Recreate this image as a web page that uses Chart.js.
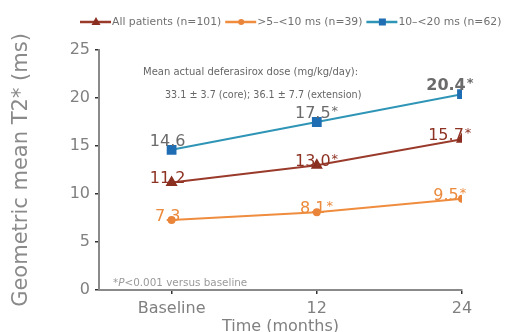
<!DOCTYPE html>
<html><head><meta charset="utf-8">
<script src="https://cdn.jsdelivr.net/npm/chart.js@4/dist/chart.umd.min.js"></script>
<style>html,body{margin:0;padding:0;background:#fff}#wrap{width:516px;height:332px}</style>
</head><body><div id="wrap"><canvas id="c" width="516" height="332"></canvas></div>
<script>
// ---- data ----
const months = [0, 12, 24];
const xTickLabels = ['Baseline', '12', '24'];
const seriesNames = ['All patients (n=101)', '>5\u2013<10 ms (n=39)', '10\u2013<20 ms (n=62)'];
const allPatients = [11.2, 13.0, 15.7];
const severe = [7.3, 8.1, 9.5];
const mildModerate = [14.6, 17.5, 20.4];
const significant = [false, true, true];
const doseNote = ['Mean actual deferasirox dose (mg/kg/day):', '33.1 \u00b1 3.7 (core); 36.1 \u00b1 7.7 (extension)'];
const footnoteText = ['*', 'P', '<0.001 versus baseline'];

const FONT = "'DejaVu Sans', Verdana, sans-serif";
const RED = '#9a3a2b', ORANGE = '#ef8c3e', BLUE = '#2f95b6', BLUE_M = '#1f6db3';

function pts(vals){ return months.map((m,i)=>({x:m, y:vals[i]})); }

const datasets = [
  {label: seriesNames[0], data: pts(allPatients), borderColor: RED, backgroundColor: RED,
   pointStyle:'triangle', pointRadius:5, pointBackgroundColor:'#8a2e20', pointBorderColor:'#8a2e20', borderWidth:2,
   _lbl:{color:'#8e3324', dy:1, bold:[false,false,false]}},
  {label: seriesNames[1], data: pts(severe), borderColor: ORANGE, backgroundColor: ORANGE,
   pointStyle:'circle', pointRadius:3, pointBackgroundColor:'#e9843a', pointBorderColor:'#e9843a', borderWidth:2,
   _lbl:{color:'#ec8a3c', dy:1, bold:[false,false,false]}},
  {label: seriesNames[2], data: pts(mildModerate), borderColor: BLUE, backgroundColor: BLUE_M,
   pointStyle:'rect', pointRadius:5.5, pointBackgroundColor: BLUE_M, pointBorderColor: BLUE_M, borderWidth:2,
   _lbl:{color:'#6b6b6b', dy:-4, bold:[false,false,true]}}
];

const labelDx = [-4, -4, -16];

const labelsPlugin = {
  id:'valueLabels',
  afterDatasetsDraw(chart){
    const ctx = chart.ctx;
    chart.data.datasets.forEach((ds, di)=>{
      const meta = chart.getDatasetMeta(di);
      meta.data.forEach((p, j)=>{
        const v = ds.data[j].y.toFixed(1);
        const st = ds._lbl;
        ctx.save();
        ctx.fillStyle = st.color;
        ctx.font = (st.bold[j] ? 'bold ' : '') + '16px ' + FONT;
        ctx.textBaseline = 'alphabetic';
        ctx.textAlign = 'center';
        const cx = p.x + labelDx[j];
        const by = p.y + st.dy;
        ctx.fillText(v, cx, by);
        if (significant[j]) {
          const w = ctx.measureText(v).width;
          ctx.textAlign = 'left';
          ctx.font = (st.bold[j] ? 'bold ' : '') + '13px ' + FONT;
          ctx.fillText('*', cx + w/2 + 1, by - 3);
        }
        ctx.restore();
      });
    });
  }
};

const notesPlugin = {
  id:'notes',
  afterDraw(chart){
    const ctx = chart.ctx;
    ctx.save();
    // legend
    let x = 80; const y = 22;
    ctx.font = '10.8px ' + FONT;
    ctx.textBaseline = 'middle';
    chart.data.datasets.forEach((ds)=>{
      ctx.strokeStyle = ds.borderColor; ctx.lineWidth = 2.5;
      ctx.beginPath(); ctx.moveTo(x, y); ctx.lineTo(x+31, y); ctx.stroke();
      const mx = x + 16;
      ctx.fillStyle = ds.pointBackgroundColor;
      ctx.beginPath();
      if (ds.pointStyle === 'triangle') { ctx.moveTo(mx, y-5); ctx.lineTo(mx+4.5, y+3); ctx.lineTo(mx-4.5, y+3); ctx.closePath(); }
      else if (ds.pointStyle === 'rect') { ctx.rect(mx-3.5, y-3.5, 7, 7); }
      else { ctx.arc(mx, y, 3, 0, Math.PI*2); }
      ctx.fill();
      ctx.fillStyle = '#707070';
      ctx.textAlign = 'left';
      ctx.fillText(ds.label, x + 32, y);
      x = x + 32 + ctx.measureText(ds.label).width + 4;
    });
    // dose note
    ctx.fillStyle = '#666';
    ctx.font = '10px ' + FONT;
    ctx.textBaseline = 'middle';
    ctx.fillText(doseNote[0], 143, 72);
    ctx.font = '9.6px ' + FONT;
    ctx.fillText(doseNote[1], 165, 95);
    // footnote
    ctx.fillStyle = '#9a9a9a';
    let fx = 113;
    ctx.font = '10.4px ' + FONT;
    ctx.fillText(footnoteText[0], fx, 283); fx += ctx.measureText(footnoteText[0]).width;
    ctx.font = 'italic 10.4px ' + FONT;
    ctx.fillText(footnoteText[1], fx, 283); fx += ctx.measureText(footnoteText[1]).width;
    ctx.font = '10.4px ' + FONT;
    ctx.fillText(footnoteText[2], fx, 283);
    ctx.restore();
  }
};

new Chart(document.getElementById('c'), {
  type:'line',
  data:{datasets},
  options:{
    responsive:false, devicePixelRatio:1, animation:false,
    layout:{padding:{top:50, right:54, bottom:0, left:0}},
    plugins:{legend:{display:false}, tooltip:{enabled:false}},
    scales:{
      x:{type:'linear', min:-6, max:24,
        afterBuildTicks(s){ s.ticks = months.map(v=>({value:v})); },
        ticks:{callback:(v)=>xTickLabels[months.indexOf(v)], color:'#808080', font:{family:FONT, size:16}, padding:5, maxRotation:0, autoSkip:false},
        grid:{drawOnChartArea:false, drawTicks:true, tickLength:4, color:'#333', lineWidth:1.5},
        border:{color:'#8a8a8a', width:2},
        title:{display:true, text:'Time (months)', color:'#808080', font:{family:FONT, size:16}, padding:{top:0,bottom:-4}},
        afterFit(s){ s.height = 42; }
      },
      y:{min:0, max:25,
        ticks:{stepSize:5, color:'#808080', font:{family:FONT, size:16}, padding:5},
        grid:{drawOnChartArea:false, drawTicks:true, tickLength:4, color:'#333', lineWidth:1.5},
        border:{color:'#8a8a8a', width:2},
        title:{display:true, text:'Geometric mean T2* (ms)', color:'#8a8a8a', font:{family:FONT, size:21}, padding:{top:9,bottom:0}},
        afterFit(s){ s.width = 99; }
      }
    }
  },
  plugins:[labelsPlugin, notesPlugin]
});
</script>
</body></html>
